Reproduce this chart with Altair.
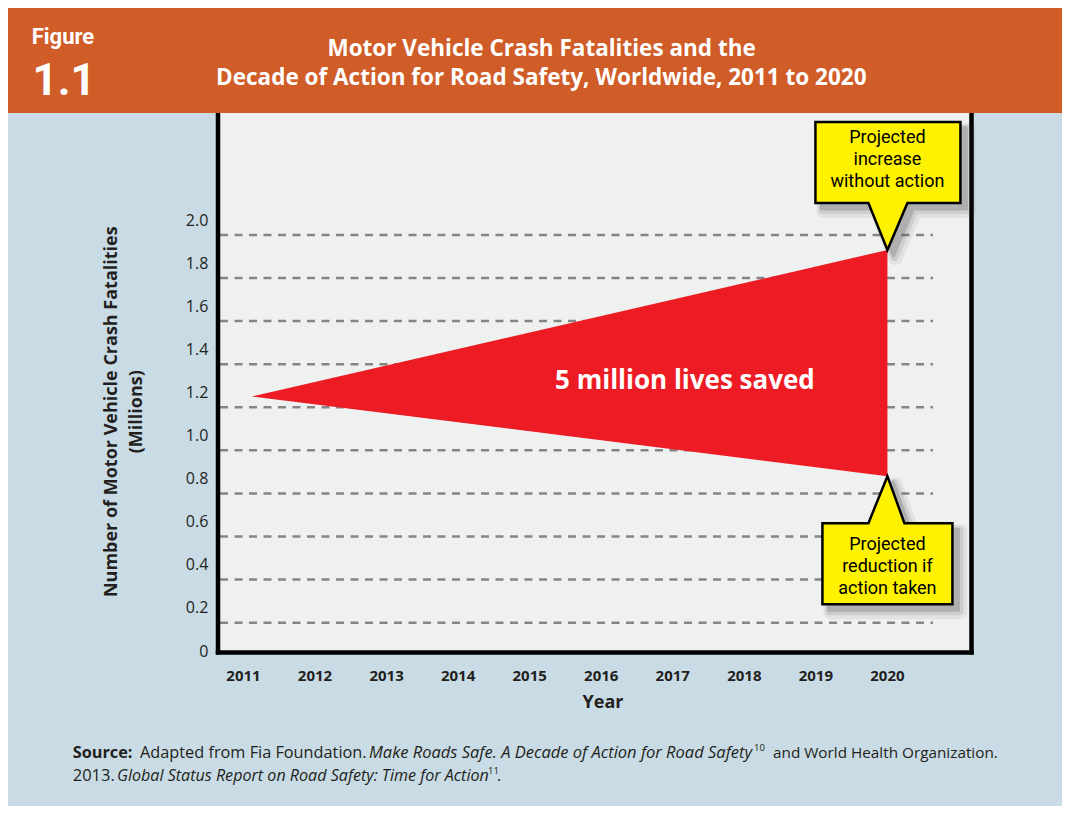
import altair as alt
import pandas as pd

# ---------------- data ----------------
years = [2011, 2012, 2013, 2014, 2015, 2016, 2017, 2018, 2019, 2020]
year_labels = ["2011", "2012", "2013", "2014", "2015", "2016", "2017", "2018", "2019", "2020"]
y_tick_values = [0.0, 0.2, 0.4, 0.6, 0.8, 1.0, 1.2, 1.4, 1.6, 1.8, 2.0]
y_tick_labels = ["0", "0.2", "0.4", "0.6", "0.8", "1.0", "1.2", "1.4", "1.6", "1.8", "2.0"]
grid_values = [0.2, 0.4, 0.6, 0.8, 1.0, 1.2, 1.4, 1.6, 1.8, 2.0]
wedge_years = [2011.12, 2020]
wedge_upper = [1.25, 1.93]   # projected increase without action (millions)
wedge_lower = [1.25, 0.88]   # projected reduction if action taken (millions)
wedge_label = ["5 million lives saved"]
wedge_label_year = [2017.17]
wedge_label_value = [1.32]
callout_top_lines = ["Projected", "increase", "without action"]
callout_bottom_lines = ["Projected", "reduction if", "action taken"]
title_lines = ["Motor Vehicle Crash Fatalities and the",
               "Decade of Action for Road Safety, Worldwide, 2011 to 2020"]
figure_label = ["Figure", "1.1"]
y_title_lines = ["Number of Motor Vehicle Crash Fatalities", "(Millions)"]
x_title = "Year"

# ---------------- style ----------------
FONT = "Open Sans"
NARROW = "Roboto"
INK = "#231f20"
ORANGE = "#d05c27"
BLUE = "#c9dbe4"
PLOT_BG = "#eff1f0"
RED = "#ed1c24"
YELLOW = "#fff200"
GRID = "#858585"
SHADOW = "#3a3a3a"

W, H = 754, 540
xs = alt.Scale(domain=[2010.644, 2021.182], nice=False, zero=False)
ys = alt.Scale(domain=[0.059, 2.566], nice=False, zero=False)


def one(**cols):
    return pd.DataFrame({k: [v] for k, v in cols.items()})


def txt(s, x, y, size, weight="normal", style="normal", font=FONT, color=INK,
        align="left", baseline="middle", angle=0):
    return alt.Chart(one(t=s)).mark_text(
        align=align, baseline=baseline, font=font, fontSize=size,
        fontWeight=weight, fontStyle=style, color=color, angle=angle
    ).encode(text="t:N", x=alt.value(x), y=alt.value(y))


layers = []

# header band
layers.append(alt.Chart(one(a=0)).mark_rect(color=ORANGE).encode(
    x=alt.value(-210), x2=alt.value(W + 100), y=alt.value(-106), y2=alt.value(0)))

# dashed gridlines
grid_df = pd.DataFrame({"v": grid_values})
layers.append(alt.Chart(grid_df).mark_rule(
    color=GRID, strokeWidth=2.5, strokeDash=[8, 6.5]).encode(
    y=alt.Y("v:Q", scale=ys, axis=None), x=alt.value(2), x2=alt.value(715)))

# red wedge
wedge_df = pd.DataFrame({"year": wedge_years, "upper": wedge_upper, "lower": wedge_lower})
layers.append(alt.Chart(wedge_df).mark_area(color=RED, opacity=1).encode(
    x=alt.X("year:Q", scale=xs, axis=None),
    y=alt.Y("upper:Q", scale=ys, axis=None), y2="lower:Q"))

# wedge label
lab_df = pd.DataFrame({"t": wedge_label, "x": wedge_label_year, "y": wedge_label_value})
layers.append(alt.Chart(lab_df).mark_text(
    font=FONT, fontSize=26, fontWeight="bold", color="white", align="center",
    baseline="middle").encode(
    x=alt.X("x:Q", scale=xs, axis=None), y=alt.Y("y:Q", scale=ys, axis=None), text="t:N"))

# plot frame (left, right, bottom)
for xv in (0, 753.5):
    layers.append(alt.Chart(one(a=0)).mark_rule(color="black", strokeWidth=4.5).encode(
        x=alt.value(xv), y=alt.value(0), y2=alt.value(541.5)))
layers.append(alt.Chart(one(a=0)).mark_rule(color="black", strokeWidth=4.5).encode(
    x=alt.value(-2.2), x2=alt.value(755.7), y=alt.value(539.5)))

# callouts
TOP_PATH = "M -72 -128 L 73 -128 L 73 -47 L 20 -47 L 0 0 L -19 -47 L -72 -47 Z"
BOT_PATH = "M 0 0 L 17 47 L 65 47 L 65 128 L -65 128 L -65 47 L -19 47 Z"
anchors = [
    (wedge_years[-1], wedge_upper[-1], TOP_PATH, callout_top_lines, [-112, -90, -68]),
    (wedge_years[-1], wedge_lower[-1], BOT_PATH, callout_bottom_lines, [69, 91, 113]),
]
for ax, ay, path, lines, dys in anchors:
    adf = one(x=ax, y=ay)
    enc = dict(x=alt.X("x:Q", scale=xs, axis=None), y=alt.Y("y:Q", scale=ys, axis=None))
    for dx, w, op in ((8, 14, 0.07), (7, 8, 0.12), (6, 3, 0.2)):
        layers.append(alt.Chart(adf).mark_point(
            shape=path, size=4, filled=True, fill=SHADOW, stroke=SHADOW,
            strokeWidth=w, opacity=op, strokeJoin="round", xOffset=dx, yOffset=dx
        ).encode(**enc))
    layers.append(alt.Chart(adf).mark_point(
        shape=path, size=4, filled=True, fill=YELLOW, stroke="black",
        strokeWidth=2.5, opacity=1, strokeJoin="miter").encode(**enc))
    for line, dy in zip(lines, dys):
        ldf = one(x=ax, y=ay, t=line)
        layers.append(alt.Chart(ldf).mark_text(
            font=NARROW, fontSize=18, color="black", align="center",
            baseline="middle", dy=dy).encode(text="t:N", **enc))

# x tick labels through the x scale
xtick_df = pd.DataFrame({"v": years, "t": year_labels})
layers.append(alt.Chart(xtick_df).mark_text(
    font=FONT, fontSize=15, fontWeight="bold", color=INK, align="center", baseline="middle"
).encode(x=alt.X("v:Q", scale=xs, axis=None), y=alt.value(562.7), text="t:N"))
layers.append(txt(x_title, 385, 589.7, 18, weight="bold", align="center"))

# y tick labels (drawn through the y scale, lifted above their gridlines)
ytick_df = pd.DataFrame({"v": y_tick_values, "t": y_tick_labels})
layers.append(alt.Chart(ytick_df).mark_text(
    font=FONT, fontSize=16, color=INK, align="right", baseline="middle", dy=-14.2
).encode(y=alt.Y("v:Q", scale=ys, axis=None), x=alt.value(-9.7), text="t:N"))

# y title
layers.append(txt(y_title_lines[0], -106.3, 298.7, 18, weight="bold", align="center", angle=270))
layers.append(txt(y_title_lines[1], -81.3, 298.7, 18, weight="bold", align="center", angle=270))

# header texts
layers.append(txt(figure_label[0], -186.3, -69, 22, weight="bold", font=NARROW,
                  color="white", baseline="alphabetic"))
layers.append(txt(figure_label[1], -185.5, -18, 44, weight="bold", font=NARROW,
                  color="white", baseline="alphabetic"))
layers.append(txt(title_lines[0], 323.6, -63.7, 22.5, weight="bold", color="white", align="center"))
layers.append(txt(title_lines[1], 323.3, -34.7, 22.5, weight="bold", color="white", align="center"))

# source note
L1, L2 = 639.7, 662.5
layers.append(txt("Source:", -145.3, L1, 16.3, weight="bold"))
layers.append(txt("Adapted from Fia Foundation.", -78, L1, 16.3))
layers.append(txt("Make Roads Safe. A Decade of Action for Road Safety", 151, L1, 16.5, style="italic"))
layers.append(txt("10", 536, L1 - 5, 9.5))
layers.append(txt("and World Health Organization.", 555, L1, 15.3))
layers.append(txt("2013.", -145.3, L2, 16.5))
layers.append(txt("Global Status Report on Road Safety: Time for Action", -101, L2, 16.1, style="italic"))
layers.append(txt("11", 270, L2 - 5, 9.5))
layers.append(txt(".", 279, L2, 16.1))

chart = alt.layer(*layers).properties(
    width=W, height=H, background=BLUE,
    padding={"left": 210, "top": 105, "right": 90, "bottom": 153},
    autosize=alt.AutoSizeParams(type="none"),
).configure_view(fill=PLOT_BG, stroke=None)

chart.save("out.html", embed_options={"renderer": "svg", "actions": False})
